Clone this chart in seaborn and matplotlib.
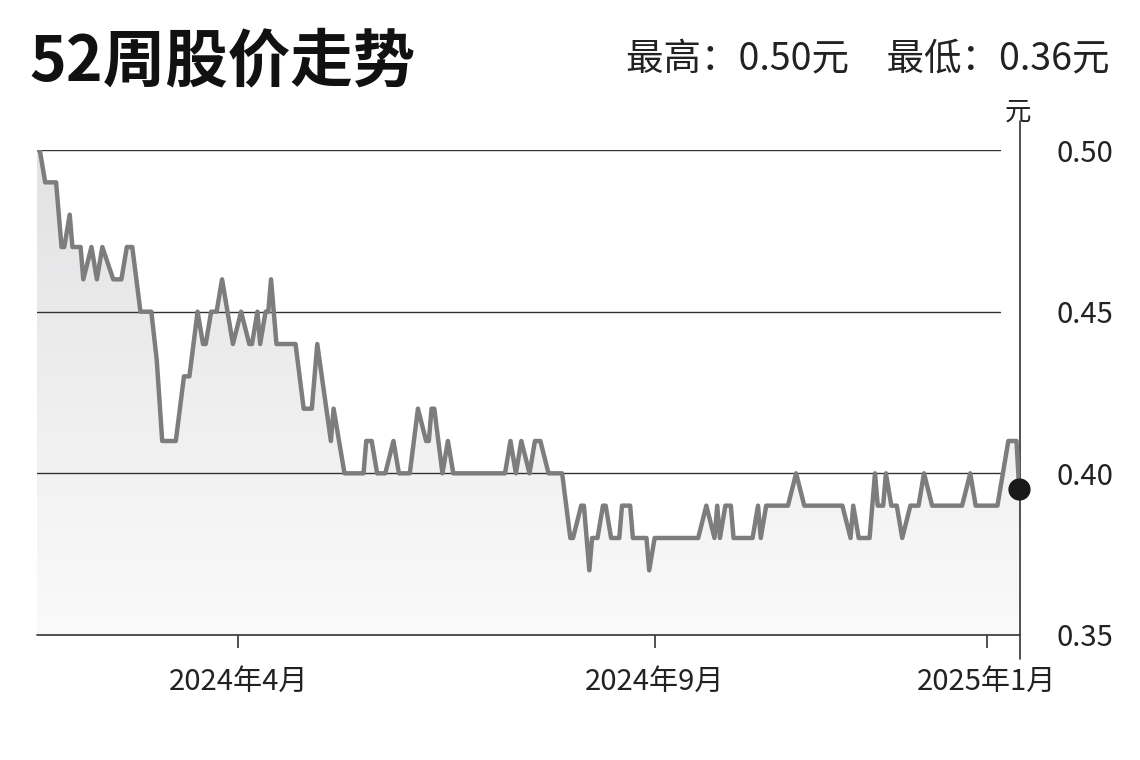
import numpy as np
import pandas as pd
import matplotlib
matplotlib.use("Agg")
import matplotlib.pyplot as plt
import matplotlib.dates as mdates
from matplotlib.lines import Line2D
import seaborn as sns

start_date = "2024-01-18"
day_offsets = [0,1,3,7,9,10,12,13,16,17,20,22,24,28,31,33,35,38,42,44,46,51,54,56,59,61,62,64,66,68,
               72,75,78,79,81,82,84,85,86,88,95,98,101,103,108,109,113,120,121,123,125,128,131,133,137,
               140,143,144,145,146,149,151,153,172,174,176,178,181,183,185,188,193,196,197,200,201,203,
               204,206,208,209,211,214,215,218,219,224,225,227,236,243,246,249,250,251,253,255,256,263,
               265,266,268,276,279,282,296,299,300,302,306,308,309,311,312,314,316,318,321,324,326,329,
               340,343,345,353,357,360,361]
prices = [0.50,0.50,0.49,0.49,0.47,0.47,0.48,0.47,0.47,0.46,0.47,0.46,0.47,0.46,0.46,0.47,0.47,0.45,0.45,0.435,
          0.41,0.41,0.43,0.43,0.45,0.44,0.44,0.45,0.45,0.46,
          0.44,0.45,0.44,0.44,0.45,0.44,0.45,0.45,0.46,0.44,0.44,0.42,0.42,0.44,0.41,0.42,0.40,0.40,0.41,0.41,
          0.40,0.40,0.41,0.40,0.40,
          0.42,0.41,0.41,0.42,0.42,0.40,0.41,0.40,0.40,0.41,0.40,0.41,0.40,0.41,0.41,0.40,0.40,0.38,0.38,0.39,
          0.39,0.37,0.38,
          0.38,0.39,0.39,0.38,0.38,0.39,0.39,0.38,0.38,0.37,0.38,0.38,0.38,0.39,0.38,0.39,0.38,0.39,0.39,0.38,
          0.38,0.39,0.38,0.39,0.39,0.40,0.39,0.39,0.38,0.39,0.38,0.38,0.40,0.39,0.39,0.40,0.39,0.39,0.38,0.39,
          0.39,0.40,0.39,
          0.39,0.40,0.39,0.39,0.41,0.41,0.395]
y_ticks = [0.35, 0.40, 0.45, 0.50]
y_tick_labels = ["0.35", "0.40", "0.45", "0.50"]
x_tick_dates = ["2024-04-01", "2024-09-01", "2025-01-01"]
x_tick_labels = ["2024年4月", "2024年9月", "2025年1月"]
title = "52周股价走势"
subtitle = "最高：0.50元　最低：0.36元"
unit = "元"

dates = pd.Timestamp(start_date) + pd.to_timedelta(day_offsets, unit="D")
df = pd.DataFrame({"date": dates, "price": prices})

sns.set_theme(style="white")
plt.rcParams['font.family'] = ['Noto Sans CJK SC', 'DejaVu Sans']

fig = plt.figure(figsize=(11.4, 7.6), dpi=100)
ax = fig.add_axes([0.0325, 0.1645, 0.8625, 0.6381])
ymin, ymax = 0.35, 0.50
xnum = mdates.date2num(df["date"])
x0 = mdates.date2num(pd.Timestamp(start_date))
x1 = x0 + 361.4

grad = np.linspace(0, 1, 256).reshape(-1, 1)
im = ax.imshow(grad, extent=[x0, x1, ymin, ymax], origin="lower", aspect="auto",
               cmap=matplotlib.colors.LinearSegmentedColormap.from_list("g", ["#fafafa", "#e2e2e4"]),
               zorder=1)
poly = ax.fill_between(xnum, df["price"], ymin, color="none", lw=0)
clip = poly.get_paths()[0]
im.set_clip_path(clip, transform=ax.transData)

sns.lineplot(data=df, x="date", y="price", ax=ax, color="#7d7d7d", lw=3.2, zorder=3)
ax.plot(xnum[-1], prices[-1], "o", color="#1a1a1a", ms=15, zorder=5, clip_on=False)

ax.set_xlim(x0, x1)
ax.set_ylim(ymin, ymax)
for s in ax.spines.values():
    s.set_visible(False)
for yv in y_ticks[1:]:
    ax.plot([x0, x0 + 354], [yv, yv], color="#333333", lw=1.0, zorder=2)
ax.plot([x0, x1], [ymin, ymin], color="#333333", lw=1.2, zorder=2, clip_on=False)
ax.add_line(Line2D([1, 1], [-0.05, 1.06], transform=ax.transAxes, color="#333333", lw=1.2, clip_on=False))

ax.set_yticks(y_ticks)
ax.set_yticklabels(y_tick_labels)
ax.yaxis.tick_right()
ax.tick_params(axis="y", length=0, pad=26, labelsize=21, labelcolor="#222222")
ax.set_xticks(mdates.date2num(pd.to_datetime(x_tick_dates)))
ax.set_xticklabels(x_tick_labels)
ax.tick_params(axis="x", length=9, width=1.2, color="#333333", bottom=True, pad=14,
               labelsize=21, labelcolor="#222222")
ax.set_xlabel("")
ax.set_ylabel("")
ax.grid(False)

fig.text(0.026, 0.918, title, fontsize=45, fontweight="bold", color="#111111", va="center")
fig.text(0.973, 0.921, subtitle, fontsize=27, color="#222222", va="center", ha="right")
fig.text(0.893, 0.853, unit, fontsize=19, color="#222222", va="center", ha="center")

fig.savefig("out.png", dpi=100, facecolor="white")
